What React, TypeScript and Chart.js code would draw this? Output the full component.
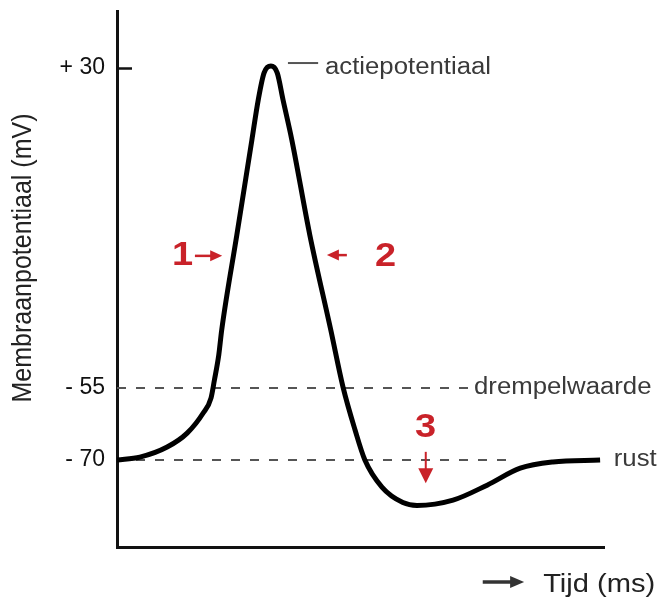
import { useEffect, useRef } from 'react';
import { Chart, registerables, LinearScale } from 'chart.js';

// ---- data ----
const TIME_MS = [0, 0.47, 1.03, 1.44, 1.77, 1.93, 2.0, 2.09, 2.15, 2.46, 2.77, 2.9, 3.02, 3.16, 3.29, 3.41, 3.59, 3.96, 4.39, 4.64, 4.89, 5.09, 5.44, 5.87, 6.16, 6.9, 7.6, 8.28, 8.95, 9.92];
const POTENTIAL_MV = [-70, -69.4, -67.3, -64.4, -60.2, -57.1, -52.9, -46.2, -39.6, -14.4, 10.9, 21.5, 28.7, 30.5, 28.7, 21.5, 10.9, -14.4, -39.6, -54.7, -63.8, -70, -75.6, -78.8, -79.4, -78.3, -75.2, -71.7, -70.4, -70];
const THRESHOLD_MV = -55;
const THRESHOLD_END_MS = 7.29;
const REST_MV = -70;
const REST_END_MS = 8.0;
const TIME_MIN = 0;
const TIME_MAX = 10;
const Y_TICK_VALUES = [-70, -55, 30];
const Y_TICK_LABELS = ['- 70', '- 55', '+ 30'];
const Y_TICK_MARKS = [30];
// schematic (non-linear) potential axis: knot values and their relative heights
const Y_KNOT_VALUES = [-88, -70, -55, 30, 45];
const Y_KNOT_FRACTIONS = [0, 0.1623, 0.2966, 0.8937, 1];
const Y_TITLE = 'Membraanpotentiaal (mV)';
const X_TITLE = 'Tijd (ms)';
const LINE_LABELS = [
  { text: 'actiepotentiaal', x: 4.27, y: 30 },
  { text: 'drempelwaarde', x: 7.33, y: -55 },
  { text: 'rust', x: 10.2, y: -70 },
];
const PEAK_CONNECTOR = { x1: 3.51, x2: 4.13, y: 31.3 };
const PHASE_MARKERS = [
  { text: '1', x: 1.13, y: -22.3, from: [1.6, -19.9], to: [2.16, -19.9] },
  { text: '2', x: 5.3, y: -22.6, from: [4.72, -19.7], to: [4.31, -19.7] },
  { text: '3', x: 6.12, y: -65.2, from: [6.34, -68.3], to: [6.34, -74.8] },
];

const FONT = '"Liberation Sans", Arial, Helvetica, sans-serif';
const RED = '#c92229';
const GREY_TEXT = '#3a3a3a';

function valueToFraction(v: number): number {
  const k = Y_KNOT_VALUES;
  const f = Y_KNOT_FRACTIONS;
  let i = 0;
  if (v <= k[0]) i = 0;
  else if (v >= k[k.length - 1]) i = k.length - 2;
  else {
    while (i < k.length - 2 && v > k[i + 1]) i++;
  }
  return f[i] + ((v - k[i]) / (k[i + 1] - k[i])) * (f[i + 1] - f[i]);
}
function fractionToValue(d: number): number {
  const k = Y_KNOT_VALUES;
  const f = Y_KNOT_FRACTIONS;
  let i = 0;
  if (d <= f[0]) i = 0;
  else if (d >= f[f.length - 1]) i = f.length - 2;
  else {
    while (i < f.length - 2 && d > f[i + 1]) i++;
  }
  return k[i] + ((d - f[i]) / (f[i + 1] - f[i])) * (k[i + 1] - k[i]);
}

class PiecewiseLinearScale extends LinearScale {
  static id = 'piecewiseLinear';
  static defaults = (LinearScale as any).defaults;
  getPixelForValue(value: number) {
    return (this as any).getPixelForDecimal(valueToFraction(value));
  }
  getValueForPixel(pixel: number) {
    return fractionToValue((this as any).getDecimalForPixel(pixel));
  }
}

Chart.register(...registerables, PiecewiseLinearScale as any);

function stretchedText(ctx: CanvasRenderingContext2D, text: string, x: number, y: number, sx: number) {
  ctx.save();
  ctx.translate(x, y);
  ctx.scale(sx, 1);
  ctx.fillText(text, 0, 0);
  ctx.restore();
}

function arrow(ctx: CanvasRenderingContext2D, x1: number, y1: number, x2: number, y2: number, shaft: number, headLen: number, headHalf: number, color: string) {
  const ang = Math.atan2(y2 - y1, x2 - x1);
  const bx = x2 - Math.cos(ang) * headLen;
  const by = y2 - Math.sin(ang) * headLen;
  ctx.save();
  ctx.strokeStyle = color;
  ctx.fillStyle = color;
  ctx.lineWidth = shaft;
  ctx.beginPath();
  ctx.moveTo(x1, y1);
  ctx.lineTo(bx + Math.cos(ang) * 2, by + Math.sin(ang) * 2);
  ctx.stroke();
  ctx.beginPath();
  ctx.moveTo(x2, y2);
  ctx.lineTo(bx - Math.sin(ang) * headHalf, by + Math.cos(ang) * headHalf);
  ctx.lineTo(bx + Math.sin(ang) * headHalf, by - Math.cos(ang) * headHalf);
  ctx.closePath();
  ctx.fill();
  ctx.restore();
}

const annotationPlugin = {
  id: 'schematicAnnotations',
  afterDraw(chart: any) {
    const ctx: CanvasRenderingContext2D = chart.ctx;
    const xs = chart.scales.x;
    const ys = chart.scales.y;
    const area = chart.chartArea;
    const px = (v: number) => xs.getPixelForValue(v);
    const py = (v: number) => ys.getPixelForValue(v);

    // inner tick marks
    ctx.save();
    ctx.strokeStyle = '#111';
    ctx.lineWidth = 2.5;
    Y_TICK_MARKS.forEach((v) => {
      const y = Math.round(py(v)) + 0.5;
      ctx.beginPath();
      ctx.moveTo(area.left, y);
      ctx.lineTo(area.left + 15, y);
      ctx.stroke();
    });
    ctx.restore();

    // y title
    ctx.save();
    ctx.fillStyle = '#222';
    ctx.font = `25px ${FONT}`;
    ctx.textAlign = 'center';
    ctx.textBaseline = 'middle';
    ctx.translate(23, (area.top + area.bottom) / 2 - 21);
    ctx.rotate(-Math.PI / 2);
    ctx.scale(1, 1.12);
    ctx.fillText(Y_TITLE, 0, 0);
    ctx.restore();

    // peak connector
    ctx.save();
    ctx.strokeStyle = '#555';
    ctx.lineWidth = 2;
    ctx.beginPath();
    ctx.moveTo(px(PEAK_CONNECTOR.x1), py(PEAK_CONNECTOR.y));
    ctx.lineTo(px(PEAK_CONNECTOR.x2), py(PEAK_CONNECTOR.y));
    ctx.stroke();
    ctx.restore();

    // grey line labels
    ctx.save();
    ctx.fillStyle = GREY_TEXT;
    ctx.font = `23px ${FONT}`;
    ctx.textAlign = 'left';
    ctx.textBaseline = 'middle';
    LINE_LABELS.forEach((l) => stretchedText(ctx, l.text, px(l.x), py(l.y), 1.12));
    ctx.restore();

    // red phase markers
    ctx.save();
    ctx.fillStyle = RED;
    ctx.font = `bold 33px ${FONT}`;
    ctx.textAlign = 'left';
    ctx.textBaseline = 'alphabetic';
    PHASE_MARKERS.forEach((m) => {
      stretchedText(ctx, m.text, px(m.x), py(m.y), 1.15);
      const vertical = m.from[0] === m.to[0];
      arrow(ctx, px(m.from[0]), py(m.from[1]), px(m.to[0]), py(m.to[1]), vertical ? 2 : 2.5, vertical ? 15 : 12, vertical ? 7.5 : 5.5, RED);
    });
    ctx.restore();

    // x title with arrow
    const axisY = area.bottom;
    arrow(ctx, px(7.51), axisY + 35, px(8.36), axisY + 35, 3.5, 14, 6, '#333');
    ctx.save();
    ctx.fillStyle = '#222';
    ctx.font = `26px ${FONT}`;
    ctx.textAlign = 'left';
    ctx.textBaseline = 'alphabetic';
    stretchedText(ctx, X_TITLE, px(8.75), axisY + 45, 1.12);
    ctx.restore();
  },
};

export default function App() {
  const canvasRef = useRef<HTMLCanvasElement | null>(null);

  useEffect(() => {
    if (!canvasRef.current) return;
    const chart = new Chart(canvasRef.current, {
      type: 'line',
      data: {
        datasets: [
          {
            label: 'membraanpotentiaal',
            data: TIME_MS.map((t, i) => ({ x: t, y: POTENTIAL_MV[i] })),
            borderColor: '#000',
            borderWidth: 5,
            pointRadius: 0,
            cubicInterpolationMode: 'monotone',
            fill: false,
          },
          {
            label: 'drempelwaarde',
            data: [
              { x: TIME_MIN, y: THRESHOLD_MV },
              { x: THRESHOLD_END_MS, y: THRESHOLD_MV },
            ],
            borderColor: '#555',
            borderWidth: 2,
            borderDash: [9, 10],
            pointRadius: 0,
          },
          {
            label: 'rust',
            data: [
              { x: TIME_MIN, y: REST_MV },
              { x: REST_END_MS, y: REST_MV },
            ],
            borderColor: '#555',
            borderWidth: 2,
            borderDash: [9, 10],
            pointRadius: 0,
          },
        ],
      },
      options: {
        responsive: false,
        animation: false,
        devicePixelRatio: 1,
        layout: { padding: { top: 11, left: 0, right: 58, bottom: 53 } },
        plugins: {
          legend: { display: false },
          tooltip: { enabled: false },
        },
        scales: {
          x: {
            type: 'linear',
            min: TIME_MIN,
            max: TIME_MAX,
            grid: { display: false, drawTicks: false },
            border: { display: true, color: '#111', width: 3 },
            ticks: { display: false },
            afterFit: (s: any) => {
              s.height = 0;
              s.paddingLeft = 0;
              s.paddingRight = 0;
            },
          },
          y: {
            type: 'piecewiseLinear' as any,
            min: Y_KNOT_VALUES[0],
            max: Y_KNOT_VALUES[Y_KNOT_VALUES.length - 1],
            grid: { display: false, drawTicks: false },
            border: { display: true, color: '#111', width: 3 },
            afterBuildTicks: (s: any) => {
              s.ticks = Y_TICK_VALUES.map((v) => ({ value: v }));
            },
            ticks: {
              padding: 12,
              color: '#111',
              font: { family: FONT, size: 23 },
              callback: (v: any) => {
                const i = Y_TICK_VALUES.indexOf(Number(v));
                return i >= 0 ? Y_TICK_LABELS[i] : '';
              },
            },
            afterFit: (s: any) => {
              s.width = 117;
              s.paddingTop = 0;
              s.paddingBottom = 0;
            },
          } as any,
        },
      },
      plugins: [annotationPlugin],
    } as any);
    return () => chart.destroy();
  }, []);

  return (
    <div style={{ position: 'absolute', left: 0, top: 0, width: 662, height: 600, background: '#fff' }}>
      <canvas ref={canvasRef} width={662} height={600} />
    </div>
  );
}
